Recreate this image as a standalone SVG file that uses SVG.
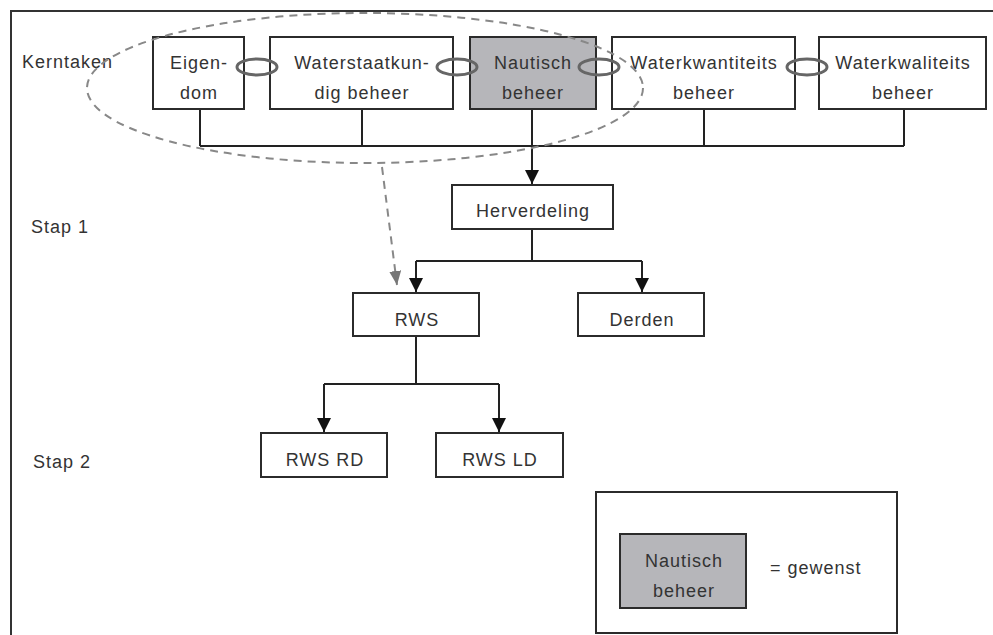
<svg xmlns="http://www.w3.org/2000/svg" width="993" height="635" viewBox="0 0 993 635">
<defs>
<style>
text{font-family:"Liberation Sans",Arial,sans-serif;font-size:18px;fill:#333;letter-spacing:1px}
.c{text-anchor:middle}
.box{fill:#fff;stroke:#2b2b2b;stroke-width:2}
.gray{fill:#b6b6ba;stroke:#2b2b2b;stroke-width:2}
.line{fill:none;stroke:#222;stroke-width:2}
.dash{fill:none;stroke:#888;stroke-width:2;stroke-dasharray:8 6}
.link{fill:none;stroke:#666;stroke-width:3}
</style>
<marker id="ah" markerUnits="userSpaceOnUse" markerWidth="16" markerHeight="16" refX="14" refY="7" orient="auto"><path d="M0,0 L14,7 L0,14 z" fill="#111"/></marker>
<marker id="ahg" markerUnits="userSpaceOnUse" markerWidth="16" markerHeight="16" refX="14" refY="6" orient="auto"><path d="M0,0 L14,6 L0,12 z" fill="#777"/></marker>
</defs>
<rect width="993" height="635" fill="#fff"/>
<path d="M11,635 V11 H995" fill="none" stroke="#333" stroke-width="2"/>
<text x="22" y="68">Kerntaken</text>
<text x="31" y="233">Stap 1</text>
<text x="33" y="468">Stap 2</text>
<g id="connectors">
<path class="line" d="M200,109 V146 M362,109 V146 M704,109 V146 M904,109 V146 M200,146 H904"/>
<path class="line" d="M532,109 V184" marker-end="url(#ah)"/>
<path class="line" d="M532,229 V261 M416,261 H642"/>
<path class="line" d="M416,261 V292" marker-end="url(#ah)"/>
<path class="line" d="M642,261 V292" marker-end="url(#ah)"/>
<path class="line" d="M416,336 V384 M324,384 H499"/>
<path class="line" d="M324,384 V432" marker-end="url(#ah)"/>
<path class="line" d="M499,384 V432" marker-end="url(#ah)"/>
<path class="dash" d="M382,167 L397,285" marker-end="url(#ahg)"/>
</g>
<g id="eigendom"><rect class="box" x="153" y="37" width="91" height="72"/><text class="c" x="199" y="69">Eigen-</text><text class="c" x="199" y="99">dom</text></g>
<g id="waterstaatkundig"><rect class="box" x="270" y="37" width="183" height="72"/><text class="c" x="362" y="69">Waterstaatkun-</text><text class="c" x="362" y="99">dig beheer</text></g>
<g id="nautisch"><rect class="gray" x="470" y="37" width="126" height="72"/><text class="c" x="533" y="69">Nautisch</text><text class="c" x="533" y="99">beheer</text></g>
<g id="waterkwantiteits"><rect class="box" x="612" y="37" width="183" height="72"/><text class="c" x="704" y="69">Waterkwantiteits</text><text class="c" x="704" y="99">beheer</text></g>
<g id="waterkwaliteits"><rect class="box" x="819" y="37" width="167" height="72"/><text class="c" x="903" y="69">Waterkwaliteits</text><text class="c" x="903" y="99">beheer</text></g>
<g id="links">
<ellipse class="link" cx="257" cy="67" rx="20" ry="8"/>
<ellipse class="link" cx="457" cy="67" rx="20" ry="8"/>
<ellipse class="link" cx="599" cy="67" rx="20" ry="8"/>
<ellipse class="link" cx="807" cy="67" rx="20" ry="8"/>
</g>
<g id="kerntaken-groep"><ellipse class="dash" cx="365" cy="88" rx="278" ry="75"/></g>
<g id="herverdeling"><rect class="box" x="452" y="185" width="161" height="44"/><text class="c" x="533" y="217">Herverdeling</text></g>
<g id="rws"><rect class="box" x="353" y="293" width="126" height="43"/><text class="c" x="417" y="326">RWS</text></g>
<g id="derden"><rect class="box" x="578" y="293" width="126" height="43"/><text class="c" x="642" y="326">Derden</text></g>
<g id="rws-rd"><rect class="box" x="261" y="433" width="126" height="44"/><text class="c" x="325" y="466">RWS RD</text></g>
<g id="rws-ld"><rect class="box" x="436" y="433" width="127" height="44"/><text class="c" x="500" y="466">RWS LD</text></g>
<g id="legenda">
<rect class="box" x="596" y="492" width="301" height="141"/>
<rect class="gray" x="620" y="534" width="126" height="74"/>
<text class="c" x="684" y="567">Nautisch</text><text class="c" x="684" y="597">beheer</text>
<text x="770" y="574">= gewenst</text>
</g>
</svg>
